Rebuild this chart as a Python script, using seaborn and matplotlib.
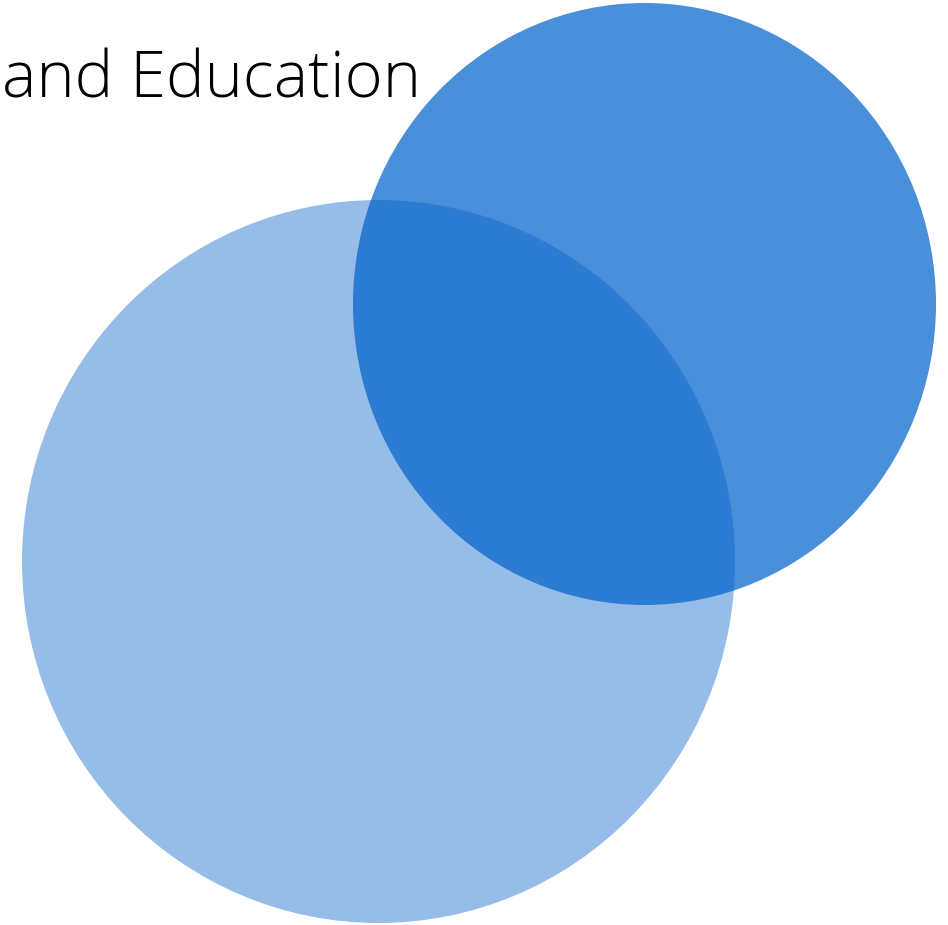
import matplotlib
matplotlib.use("Agg")
import matplotlib.pyplot as plt
import seaborn as sns
from matplotlib.patches import Ellipse
from matplotlib import font_manager

# --- data ---
set_names = ["Income", "Education"]
title_text = "and Education"
# set extents (data units): horizontal and vertical diameter, centres
set_center_x = [378.5, 644.5]
set_center_y = [561.5, 304.0]
set_width = [713.0, 583.0]
set_height = [723.0, 602.0]
set_colors = ["#96BDE8", "#0062CA"]
set_alpha = [1.0, 0.71]

sns.set_theme(style="white")
plt.rcParams['font.family'] = ['Open Sans', 'DejaVu Sans']

fig = plt.figure(figsize=(9.48, 9.25), dpi=100)
ax = fig.add_axes([0, 0, 1, 1])
ax.set_xlim(0, 948)
ax.set_ylim(925, 0)
ax.set_axis_off()

for i, name in enumerate(set_names):
    e = Ellipse((set_center_x[i], set_center_y[i]), set_width[i], set_height[i],
                facecolor=set_colors[i], alpha=set_alpha[i], edgecolor="none",
                zorder=1 + i, label=name)
    ax.add_patch(e)

t = ax.text(2, 98, title_text, ha="left", va="baseline", fontsize=46,
            fontweight="light", color="black", zorder=5)

# fit text width to the reference span (x 2..421 px)
fig.canvas.draw()
bb = t.get_window_extent()
t.set_fontsize(46 * 419.0 / bb.width)

fig.savefig("out.png", dpi=100)
